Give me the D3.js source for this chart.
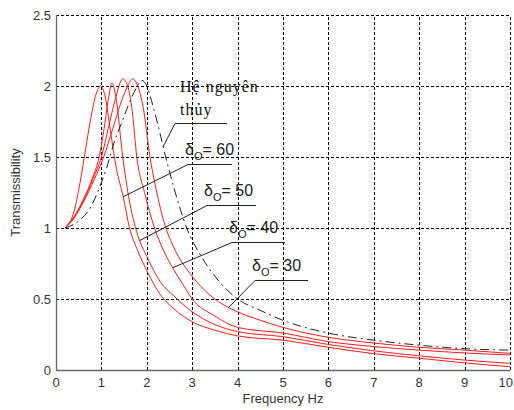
<!DOCTYPE html>
<html>
<head>
<meta charset="utf-8">
<script src="https://d3js.org/d3.v7.min.js"></script>
<style>
  body { margin: 0; background: #fff; }
  .grid line { stroke: #000; stroke-width: 1; stroke-dasharray: 3,2; shape-rendering: crispEdges; }
  .tick-label { font-family: "Liberation Sans", Arial, sans-serif; font-size: 13px; fill: #333; }
  .axis-title { font-family: "Liberation Sans", Arial, sans-serif; font-size: 13px; fill: #333; }
  .curve { fill: none; stroke: #ff1a1a; stroke-width: 1; }
  .orig { fill: none; stroke: #222; stroke-width: 1; stroke-dasharray: 9,4,2,4; }
  .leader { fill: none; stroke: #222; stroke-width: 1; }
  .note { font-family: "Liberation Sans", Arial, sans-serif; font-size: 16px; fill: #222; }
  .note-serif { font-family: "Liberation Serif", "Times New Roman", serif; font-size: 16px; fill: #111; letter-spacing: 1px; }
</style>
</head>
<body>
<div id="chart"></div>
<script>
// tick values
const xTicks = [0, 1, 2, 3, 4, 5, 6, 7, 8, 9, 10];
const yTicks = [0, 0.5, 1, 1.5, 2, 2.5];

// delta_o = 60
const f60 = [0.2, 0.4, 0.53, 0.65, 0.77, 0.88, 0.98, 1.08, 1.2, 1.33, 1.48, 1.62, 1.8, 2.0, 2.3, 2.6, 3.0, 3.5, 4.0, 5, 6, 7, 8, 9, 10];
const t60 = [1.0, 1.12, 1.32, 1.55, 1.78, 1.94, 2.0, 1.93, 1.68, 1.42, 1.22, 1.0, 0.84, 0.7, 0.53, 0.43, 0.34, 0.28, 0.24, 0.21, 0.16, 0.115, 0.083, 0.05, 0.023];

// delta_o = 50
const f50 = [0.2, 0.4, 0.6, 0.8, 0.95, 1.05, 1.15, 1.23, 1.32, 1.47, 1.6, 1.8, 2.0, 2.3, 2.6, 3.0, 3.5, 4.0, 5, 6, 7, 8, 9, 10];
const t50 = [1.0, 1.08, 1.2, 1.35, 1.5, 1.68, 1.9, 2.02, 1.92, 1.5, 1.22, 0.95, 0.8, 0.62, 0.52, 0.41, 0.32, 0.27, 0.235, 0.18, 0.135, 0.1, 0.07, 0.047];

// delta_o = 40
const f40 = [0.2, 0.4, 0.6, 0.82, 1.0, 1.15, 1.3, 1.47, 1.58, 1.68, 1.78, 1.95, 2.17, 2.4, 2.57, 2.8, 3.0, 3.5, 4.0, 5, 6, 7, 8, 9, 10];
const t40 = [1.0, 1.08, 1.19, 1.35, 1.5, 1.7, 1.9, 2.05, 2.0, 1.82, 1.5, 1.25, 1.0, 0.82, 0.72, 0.6, 0.5, 0.38, 0.3, 0.26, 0.2, 0.165, 0.14, 0.12, 0.106];

// delta_o = 30
const f30 = [0.2, 0.4, 0.6, 0.84, 1.05, 1.25, 1.45, 1.58, 1.69, 1.8, 1.92, 2.07, 2.2, 2.4, 2.6, 3.0, 3.5, 3.8, 4.0, 4.5, 5, 6, 7, 8, 9, 10];
const t30 = [1.0, 1.07, 1.18, 1.34, 1.5, 1.7, 1.9, 2.0, 2.05, 2.0, 1.85, 1.5, 1.28, 1.02, 0.86, 0.66, 0.5, 0.44, 0.41, 0.35, 0.3, 0.23, 0.19, 0.16, 0.14, 0.117];

// he nguyen thuy (original system)
const fOrig = [0.2, 0.5, 0.75, 1.0, 1.1, 1.3, 1.47, 1.6, 1.76, 1.89, 2.0, 2.1, 2.25, 2.4, 2.6, 2.88, 3.2, 3.5, 4.0, 4.5, 5, 6, 7, 8, 9, 10];
const tOrig = [1.0, 1.05, 1.14, 1.32, 1.41, 1.62, 1.76, 1.87, 1.98, 2.04, 2.0, 1.9, 1.72, 1.52, 1.28, 1.0, 0.8, 0.66, 0.5, 0.42, 0.35, 0.26, 0.21, 0.175, 0.15, 0.14];

const deltaLabels = ["60", "50", "40", "30"];

const W = 514, H = 410;
const margin = {top: 15, right: 4, bottom: 40, left: 56};

const x = d3.scaleLinear().domain([0, 10]).range([margin.left, W - margin.right]);
const y = d3.scaleLinear().domain([0, 2.5]).range([H - margin.bottom, margin.top]);

const svg = d3.select("#chart").append("svg")
    .attr("width", W)
    .attr("height", H);

// grid
const grid = svg.append("g").attr("class", "grid");
grid.selectAll(".vx")
    .data(xTicks.filter(d => d > 0))
  .enter().append("line")
    .attr("x1", d => Math.round(x(d)) + 0.5).attr("x2", d => Math.round(x(d)) + 0.5)
    .attr("y1", y(0)).attr("y2", y(2.5));
grid.selectAll(".hy")
    .data(yTicks.filter(d => d > 0))
  .enter().append("line")
    .attr("x1", x(0)).attr("x2", x(10))
    .attr("y1", d => Math.round(y(d)) + 0.5).attr("y2", d => Math.round(y(d)) + 0.5);

// axes (left and bottom only)
svg.append("line")
    .attr("x1", x(0) + 0.5).attr("x2", x(0) + 0.5)
    .attr("y1", y(2.5)).attr("y2", y(0) + 0.5)
    .attr("stroke", "#666").attr("stroke-width", 1.3);
svg.append("line")
    .attr("x1", x(0)).attr("x2", x(10))
    .attr("y1", y(0) + 0.5).attr("y2", y(0) + 0.5)
    .attr("stroke", "#666").attr("stroke-width", 1.3);

// last label pulled in so it stays on the page
svg.selectAll(".xl")
    .data(xTicks)
  .enter().append("text")
    .attr("class", "tick-label")
    .attr("x", d => d === 10 ? W - 1 : x(d))
    .attr("y", y(0) + 17)
    .attr("text-anchor", d => d === 10 ? "end" : "middle")
    .text(d => d);

svg.selectAll(".yl")
    .data(yTicks)
  .enter().append("text")
    .attr("class", "tick-label")
    .attr("x", x(0) - 5)
    .attr("y", d => y(d) + 5)
    .attr("text-anchor", "end")
    .text(d => d);

svg.append("text")
    .attr("class", "axis-title")
    .attr("x", x(5))
    .attr("y", H - 7)
    .attr("text-anchor", "middle")
    .text("Frequency Hz");

svg.append("text")
    .attr("class", "axis-title")
    .attr("transform", "translate(20," + (y(0) + y(2.5)) / 2 + ") rotate(-90)")
    .attr("text-anchor", "middle")
    .text("Transmissibility");

// curves
const line = d3.line()
    .x(d => x(d[0]))
    .y(d => y(d[1]))
    .curve(d3.curveMonotoneX);

const reds = [[f60, t60], [f50, t50], [f40, t40], [f30, t30]];
reds.forEach(([f, t]) => {
  svg.append("path")
      .datum(d3.zip(f, t))
      .attr("class", "curve")
      .attr("d", line);
});

svg.append("path")
    .datum(d3.zip(fOrig, tOrig))
    .attr("class", "orig")
    .attr("d", line);

// value on a curve at frequency fx (for leader tips)
function at(f, t, fx) {
  const i = d3.bisectLeft(f, fx);
  if (i <= 0) return t[0];
  const k = (fx - f[i - 1]) / (f[i] - f[i - 1]);
  return t[i - 1] + k * (t[i] - t[i - 1]);
}

// leader for original system
const tipO = [x(2.36), y(at(fOrig, tOrig, 2.36))];
svg.append("path")
    .attr("class", "leader")
    .attr("d", d3.line()([tipO, [175, 123.5], [227, 123.5]]));

svg.append("text").attr("class", "note-serif").attr("x", 180).attr("y", 92).text("Hệ nguyên");
svg.append("text").attr("class", "note-serif").attr("x", 180).attr("y", 115).text("thủy");

// delta labels with leaders
const leaderTips = [1.48, 1.85, 2.57, 3.8];
const elbows = [[188, 164.5], [207, 205.5], [232, 242.5], [255, 280.5]];
const lens = [44, 49, 53, 53];
reds.forEach(([f, t], i) => {
  const tip = [x(leaderTips[i]), y(at(f, t, leaderTips[i]))];
  const [ex, ey] = elbows[i];
  svg.append("path")
      .attr("class", "leader")
      .attr("d", d3.line()([tip, [ex, ey], [ex + lens[i], ey]]));
  const g = svg.append("text").attr("class", "note").attr("x", ex - 3).attr("y", ey - 10);
  g.append("tspan").text("δ");
  g.append("tspan").attr("dy", 5).attr("font-size", 11).text("O");
  g.append("tspan").attr("dy", -5).text("= " + deltaLabels[i]);
});
</script>
</body>
</html>
